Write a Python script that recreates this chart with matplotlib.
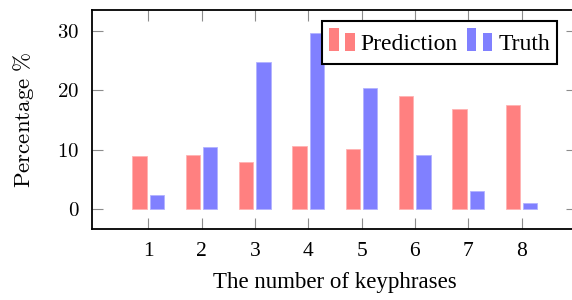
import numpy as np
import matplotlib
matplotlib.use("Agg")
from matplotlib import pyplot as plt
from matplotlib.legend_handler import HandlerBase
from matplotlib.patches import Rectangle
from matplotlib.ticker import FuncFormatter

# data
keyphrases = [1, 2, 3, 4, 5, 6, 7, 8]
prediction = [8.9, 9.1, 7.9, 10.7, 10.2, 19.0, 16.8, 17.6]
truth = [2.4, 10.4, 24.8, 29.6, 20.4, 9.1, 3.0, 1.1]
yticks = [0, 10, 20, 30]

RED = '#ff8080'
BLUE = '#8080ff'

plt.rcParams['font.family'] = ['Liberation Serif', 'DejaVu Serif']
plt.rcParams['mathtext.fontset'] = 'cm'


class TwoBarHandler(HandlerBase):
    # pgfplots style ybar legend icon: two small bars
    def create_artists(self, legend, orig_handle, xdescent, ydescent,
                       width, height, fontsize, trans):
        c = orig_handle.get_facecolor()
        w = width * 0.38
        base = -ydescent + 0.2 * height
        r1 = Rectangle((-xdescent, base), w, height * 0.8, facecolor=c,
                       edgecolor='none', transform=trans)
        r2 = Rectangle((-xdescent + width - w, base), w, height * 0.62,
                       facecolor=c, edgecolor='none', transform=trans)
        return [r1, r2]


def main():
    fig = plt.figure(figsize=(5.72, 3.0), dpi=100)
    W, H = 572.0, 300.0
    left, right, top, bottom = 91.7, 577.0, 10.0, 229.0
    ax = fig.add_axes([left / W, 1 - bottom / H, (right - left) / W, (bottom - top) / H])

    x = np.array(keyphrases, dtype=float)
    bw = 0.27
    b1 = ax.bar(x - 0.163, prediction, bw, color=RED, edgecolor='#ffb3b3',
                linewidth=0.6, label='Prediction')
    b2 = ax.bar(x + 0.16, truth, bw, color=BLUE, edgecolor='#b3b3ff',
                linewidth=0.6, label='Truth')

    ax.set_xlim(-0.062, 9.04)
    ax.set_ylim(-3.31, 33.53)
    ax.set_xticks(keyphrases)
    ax.set_yticks(yticks)
    ax.yaxis.set_major_formatter(FuncFormatter(lambda v, p: r'$%d$' % v))

    ax.tick_params(direction='in', length=8, width=0.8, color='#8c8c8c',
                   top=True, right=True)
    ax.tick_params(axis='x', pad=9, labelsize=15.5)
    ax.tick_params(axis='y', pad=9, labelsize=15)
    for s in ax.spines.values():
        s.set_linewidth(1.3)

    ax.set_xlabel('The number of keyphrases', fontsize=16.5)
    ax.xaxis.set_label_coords(0.501, -0.195)
    ax.set_ylabel(r'$\mathrm{Percentage}\ \%$', fontsize=16.5)
    ax.yaxis.set_label_coords(-0.115, 0.5)

    leg = ax.legend(handles=[b1.patches[0], b2.patches[0]],
                    labels=['Prediction', 'Truth'],
                    handler_map={Rectangle: TwoBarHandler()},
                    loc='upper left', bbox_to_anchor=(321.7 / W, 1 - 20.7 / H),
                    bbox_transform=fig.transFigure, borderaxespad=0,
                    ncol=2, fontsize=17, handlelength=1.1, handleheight=1.55,
                    handletextpad=0.25, columnspacing=0.37, borderpad=0.3,
                    fancybox=False, framealpha=1, edgecolor='black')
    leg.get_frame().set_linewidth(1.5)
    leg.set_zorder(5)

    fig.savefig('out.png', dpi=100)


if __name__ == "__main__":
    main()
